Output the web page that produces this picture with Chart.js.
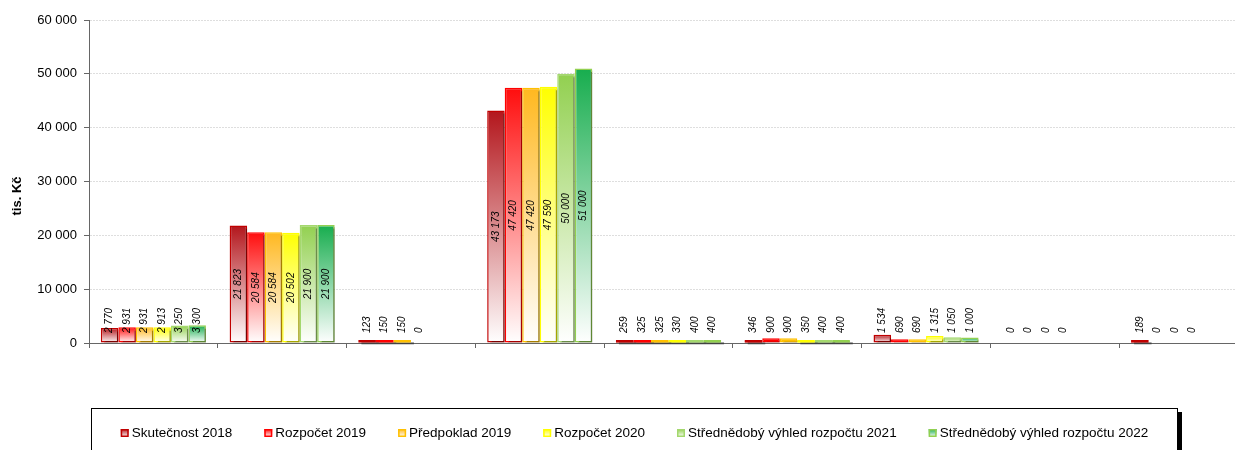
<!DOCTYPE html>
<html>
<head>
<meta charset="utf-8">
<script src="https://cdn.jsdelivr.net/npm/chart.js@4.4.0/dist/chart.umd.min.js"></script>
<style>
    body { margin: 0; overflow: hidden; background: #fff; }
    #wrap { width: 1248px; height: 450px; }
</style>
</head>
<body>
<div id="wrap"><canvas id="chart" width="1248" height="450"></canvas></div>
<script>
const categories = ["", "", "", "", "", "", "", "", ""];
const seriesNames = [
    "Skutečnost 2018",
    "Rozpočet 2019",
    "Předpoklad 2019",
    "Rozpočet 2020",
    "Střednědobý výhled rozpočtu 2021",
    "Střednědobý výhled rozpočtu 2022"
];
const skutecnost2018 = [2770, 21823, 123, 43173, 259, 346, 1534, 0, 189];
const rozpocet2019   = [2931, 20584, 150, 47420, 325, 900, 690, 0, 0];
const predpoklad2019 = [2931, 20584, 150, 47420, 325, 900, 690, 0, 0];
const rozpocet2020   = [2913, 20502, 0, 47590, 330, 350, 1315, 0, 0];
const vyhled2021     = [3250, 21900, null, 50000, 400, 400, 1050, null, null];
const vyhled2022     = [3300, 21900, null, 51000, 400, 400, 1000, null, null];
const yTicks = [0, 10000, 20000, 30000, 40000, 50000, 60000];
const yTitle = "tis. Kč";

const topColors    = ["#b3161c", "#ff0d0d", "#ffb81f", "#ffff00", "#92d050", "#17ad4e"];
const borderColors = ["#c00000", "#ff0000", "#ffc000", "#ffff00", "#a4d86e", "#92d050"];

const FONT = '"Liberation Sans", Arial, sans-serif';

function fmt(v) {
    return String(v).replace(/\B(?=(\d{3})+(?!\d))/g, " ");
}

function barFill(i) {
    return ctx => {
        const chart = ctx.chart;
        if (!chart.chartArea || ctx.raw == null) return topColors[i];
        const y = chart.scales.y;
        const y0 = y.getPixelForValue(0);
        const y1 = y.getPixelForValue(ctx.raw);
        // very short bars read as a solid strip in the original
        if (y0 - y1 < 5) return borderColors[i];
        const g = chart.ctx.createLinearGradient(0, y1, 0, y0);
        g.addColorStop(0, topColors[i]);
        g.addColorStop(1, "#ffffff");
        return g;
    };
}

const allSeries = [skutecnost2018, rozpocet2019, predpoklad2019, rozpocet2020, vyhled2021, vyhled2022];

const datasets = allSeries.map((data, i) => ({
    label: seriesNames[i],
    data: data,
    backgroundColor: barFill(i),
    borderColor: borderColors[i],
    borderWidth: 1.5,
    borderSkipped: false,
    categoryPercentage: 0.816,
    barPercentage: 1
}));

// grey drop shadow like the original, plus Excel-like outline on tiny bars
const shadowPlugin = {
    id: "barShadow",
    beforeDatasetDraw(chart) {
        const c = chart.ctx;
        c.save();
        c.shadowColor = "rgba(0,0,0,0.35)";
        c.shadowOffsetX = 3;
        c.shadowOffsetY = 2;
        c.shadowBlur = 0;
    },
    afterDatasetDraw(chart, args) {
        const c = chart.ctx;
        const i = args.index;
        const ds = chart.data.datasets[i];
        chart.getDatasetMeta(i).data.forEach((bar, j) => {
            const v = ds.data[j];
            if (!v) return;
            if (bar.base - bar.y < 3) {
                c.fillStyle = borderColors[i];
                const top = Math.min(bar.y, bar.base - 2.5);
                c.fillRect(bar.x - bar.width / 2, top, bar.width, bar.base - top);
            }
        });
        c.restore();
    }
};

// rotated value labels
const labelPlugin = {
    id: "barLabels",
    afterDatasetsDraw(chart) {
        const c = chart.ctx;
        const y0 = chart.scales.y.getPixelForValue(0);
        c.save();
        c.font = "italic 10px " + FONT;
        c.fillStyle = "#000";
        c.textAlign = "center";
        c.textBaseline = "middle";
        chart.data.datasets.forEach((ds, i) => {
            chart.getDatasetMeta(i).data.forEach((bar, j) => {
                const v = ds.data[j];
                if (v == null) return;
                const txt = fmt(v);
                const w = c.measureText(txt).width;
                let cy = (bar.y + y0) / 2;
                cy = Math.min(cy, y0 - 10 - w / 2);
                c.save();
                c.translate(bar.x, cy);
                c.rotate(-Math.PI / 2);
                c.fillText(txt, 0, 0);
                c.restore();
            });
        });
        c.restore();
    }
};

// boxed legend + axis title
const legendPlugin = {
    id: "boxLegend",
    afterDraw(chart) {
        const c = chart.ctx;
        const box = { left: 91.5, top: 408.5, right: 1177.5 };
        c.save();

        c.fillStyle = "#000";
        c.fillRect(box.right + 0.5, box.top + 3.5, 4, 60);
        c.strokeStyle = "#000";
        c.lineWidth = 1;
        c.strokeRect(box.left, box.top, box.right - box.left, 80);

        c.font = "13.5px " + FONT;
        const gap = 32;
        const widths = seriesNames.map(n => c.measureText(n).width);
        const total = widths.reduce((a, w) => a + 11 + w, 0) + gap * (seriesNames.length - 1);
        let x = (box.left + box.right) / 2 - total / 2;
        const cy = 433;
        c.textBaseline = "middle";
        c.textAlign = "left";
        seriesNames.forEach((name, i) => {
            const g = c.createLinearGradient(0, cy - 4, 0, cy + 4);
            g.addColorStop(0, topColors[i]);
            g.addColorStop(1, "#ffffff");
            c.fillStyle = g;
            c.fillRect(x, cy - 4, 8, 8);
            c.strokeStyle = borderColors[i];
            c.lineWidth = 1.5;
            c.strokeRect(x + 0.75, cy - 3.25, 6.5, 6.5);
            c.fillStyle = "#000";
            c.fillText(name, x + 11, cy);
            x += 11 + widths[i] + gap;
        });

        c.font = "bold 13px " + FONT;
        c.translate(17, 196);
        c.rotate(-Math.PI / 2);
        c.textAlign = "center";
        c.fillText(yTitle, 0, 0);
        c.restore();
    }
};

new Chart(document.getElementById("chart"), {
    type: "bar",
    data: { labels: categories, datasets: datasets },
    options: {
        responsive: false,
        animation: false,
        layout: { padding: { top: 20, left: 0, right: 0, bottom: 0 } },
        plugins: {
            legend: { display: false },
            tooltip: { enabled: false }
        },
        scales: {
            x: {
                grid: { display: true, drawOnChartArea: false, offset: true, tickLength: 5, color: "#666" },
                border: { color: "#666" },
                ticks: { display: false },
                afterFit(s) { s.height = 107; }
            },
            y: {
                min: 0,
                max: 60000,
                afterBuildTicks(s) { s.ticks = yTicks.map(v => ({ value: v })); },
                ticks: {
                    callback: v => fmt(v),
                    color: "#000",
                    padding: 7,
                    font: { size: 13, family: FONT }
                },
                grid: { color: "#dedede", tickColor: "#666", tickLength: 5 },
                border: { color: "#666", dash: [2, 1] },
                afterFit(s) { s.width = 89; }
            }
        }
    },
    plugins: [shadowPlugin, labelPlugin, legendPlugin]
});
</script>
</body>
</html>
